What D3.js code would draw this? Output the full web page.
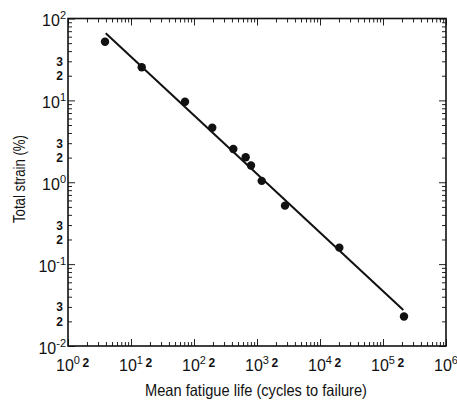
<!DOCTYPE html>
<html>
<head>
<meta charset="utf-8">
<script src="https://cdn.jsdelivr.net/npm/d3@7/dist/d3.min.js"></script>
<style>
  html, body { margin: 0; padding: 0; background: #fff; }
  svg text { font-family: "Liberation Sans", Arial, sans-serif; fill: #111; }
</style>
</head>
<body>
<svg id="grafico" width="457" height="402"></svg>
<script>
// valores (vida média à fadiga x deformação total)
const vidaFadiga = [3.87, 14.8, 72, 195, 421, 661, 803, 1187, 2782, 20270, 215400];
const deformacao = [52.1, 25.4, 9.64, 4.64, 2.55, 2.02, 1.60, 1.04, 0.518, 0.159, 0.0229];

// reta ajustada (extremos)
const retaVida = [3.97, 210000];
const retaDef  = [65.9, 0.0276];

const decadasX = [1, 10, 100, 1000, 10000, 100000, 1000000];
const decadasY = [0.01, 0.1, 1, 10, 100];
const rotulosMenoresY = [3, 2];
const rotulosMenoresX = [2];

const width = 457, height = 402;
const margem = { top: 18.5, right: 11, bottom: 56, left: 68 };

const svg = d3.select("#grafico");

const x = d3.scaleLog().domain([1, 1e6]).range([margem.left, width - margem.right]);
const y = d3.scaleLog().domain([0.01, 100]).range([height - margem.bottom, margem.top]);

// ticks menores 2..9 em cada década
const menores = (dec) => {
    const out = [];
    dec.slice(0, -1).forEach(d => { for (let k = 2; k <= 9; k++) out.push(d * k); });
    return out;
};
const menoresX = menores(decadasX);
const menoresY = menores(decadasY);

const gAxes = svg.append("g");

// eixos com ticks para dentro
const desenhaEixo = (gerador, trans) => {
    const g = gAxes.append("g").attr("transform", trans).call(gerador);
    g.select(".domain").remove();
    g.selectAll("line").attr("stroke", "#222").attr("stroke-width", 1);
    g.selectAll("text").remove();
    return g;
};

const bottom = height - margem.bottom, right = width - margem.right;

desenhaEixo(d3.axisBottom(x).tickValues(decadasX).tickSize(-7), `translate(0,${bottom})`);
desenhaEixo(d3.axisBottom(x).tickValues(menoresX).tickSize(-4), `translate(0,${bottom})`);
desenhaEixo(d3.axisTop(x).tickValues(decadasX).tickSize(-7), `translate(0,${margem.top})`);
desenhaEixo(d3.axisTop(x).tickValues(menoresX).tickSize(-4), `translate(0,${margem.top})`);
desenhaEixo(d3.axisLeft(y).tickValues(decadasY).tickSize(-7), `translate(${margem.left},0)`);
desenhaEixo(d3.axisLeft(y).tickValues(menoresY).tickSize(-4), `translate(${margem.left},0)`);
desenhaEixo(d3.axisRight(y).tickValues(decadasY).tickSize(-7), `translate(${right},0)`);
desenhaEixo(d3.axisRight(y).tickValues(menoresY).tickSize(-4), `translate(${right},0)`);

// moldura
svg.append("rect")
    .attr("x", margem.left).attr("y", margem.top)
    .attr("width", right - margem.left).attr("height", bottom - margem.top)
    .attr("fill", "none").attr("stroke", "#111").attr("stroke-width", 1.6);

// rótulos do eixo x
decadasX.forEach(d => {
    const t = svg.append("text")
        .attr("x", x(d)).attr("y", 370.5)
        .attr("text-anchor", "middle")
        .attr("font-size", 16);
    t.append("tspan").text("10");
    t.append("tspan").attr("dy", -7).attr("font-size", 11).text(Math.round(Math.log10(d)));
});
decadasX.slice(0, -1).forEach(d => {
    rotulosMenoresX.forEach(m => {
        svg.append("text")
            .attr("x", x(d * m) - 1).attr("y", 366.5)
            .attr("text-anchor", "middle")
            .attr("font-size", 12).attr("font-weight", "bold")
            .text(m);
    });
});

// rótulos do eixo y
decadasY.forEach(d => {
    const t = svg.append("text")
        .attr("x", 66).attr("y", y(d) + 7.5)
        .attr("text-anchor", "end")
        .attr("font-size", 16);
    t.append("tspan").text("10");
    t.append("tspan").attr("dy", -7).attr("font-size", 11).text(Math.round(Math.log10(d)));
});
decadasY.slice(0, -1).forEach(d => {
    rotulosMenoresY.forEach(m => {
        svg.append("text")
            .attr("x", 63).attr("y", y(d * m) + 4.5)
            .attr("text-anchor", "end")
            .attr("font-size", 12).attr("font-weight", "bold")
            .text(m);
    });
});

// títulos dos eixos
svg.append("text")
    .attr("x", 256).attr("y", 396)
    .attr("text-anchor", "middle")
    .attr("font-size", 16.5)
    .attr("textLength", 222).attr("lengthAdjust", "spacingAndGlyphs")
    .text("Mean fatigue life (cycles to failure)");

svg.append("text")
    .attr("transform", "translate(25,179) rotate(-90)")
    .attr("text-anchor", "middle")
    .attr("font-size", 16.5)
    .attr("textLength", 88).attr("lengthAdjust", "spacingAndGlyphs")
    .text("Total strain (%)");

// reta ajustada
svg.append("path")
    .datum(retaVida.map((v, i) => [v, retaDef[i]]))
    .attr("fill", "none").attr("stroke", "#111").attr("stroke-width", 2)
    .attr("d", d3.line().x(d => x(d[0])).y(d => y(d[1])));

// pontos
svg.append("g").selectAll("circle")
    .data(vidaFadiga.map((v, i) => [v, deformacao[i]]))
    .join("circle")
    .attr("cx", d => x(d[0])).attr("cy", d => y(d[1]))
    .attr("r", 4.2).attr("fill", "#111");
</script>
</body>
</html>
